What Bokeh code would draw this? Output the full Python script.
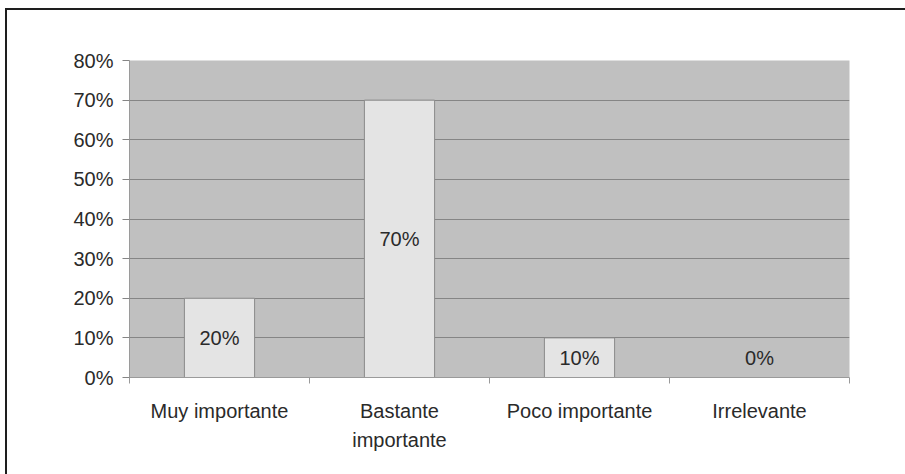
from bokeh.plotting import figure
from bokeh.models import (Range1d, FixedTicker, ColumnDataSource, PrintfTickFormatter,
                          InlineStyleSheet)
from bokeh.core.properties import value
from bokeh.embed import file_html
from bokeh.resources import INLINE

# Survey answers and their shares (percent)
categories = ["Muy importante", "Bastante\nimportante", "Poco importante", "Irrelevante"]
shares = [20, 70, 10, 0]
y_ticks = [0, 10, 20, 30, 40, 50, 60, 70, 80]

FONT = "Liberation Sans"
TEXT = "#2a2a2a"
SIZE = "20px"

xs = [i + 0.5 for i in range(len(categories))]
label_y = [max(v, 10) / 2 for v in shares]
labels = [f"{v}%" for v in shares]

src = ColumnDataSource(dict(x=xs, top=shares, ly=label_y, label=labels))

# The figure sits 7px / 10px into the page; two thin strips rule its top and left edges
frame_rule = InlineStyleSheet(css="""
:host { position: relative; }
:host::before {
  content: ""; position: absolute; left: -2px; top: -2px;
  width: 2px; height: calc(100% + 2px); background: #1e1e1e;
}
:host::after {
  content: ""; position: absolute; left: -2px; top: -2px;
  width: calc(100% + 2px); height: 2px; background: #1e1e1e;
}
""")
p = figure(width=898, height=464, output_backend="svg", toolbar_location=None,
           x_range=Range1d(0, len(categories)), y_range=Range1d(0, y_ticks[-1]),
           min_border_left=122, min_border_right=56,
           min_border_top=50, min_border_bottom=97,
           stylesheets=[frame_rule])
p.margin = (10, 0, 0, 7)
p.background_fill_color = "#c0c0c0"
p.border_fill_color = "white"
p.outline_line_color = None

p.xgrid.visible = False
p.ygrid.ticker = FixedTicker(ticks=y_ticks)
p.ygrid.grid_line_color = "#858585"
p.ygrid.grid_line_width = 1

p.vbar(x="x", top="top", width=0.39, source=src,
       fill_color="#e4e4e4", line_color="#8a8a8a", line_width=1)
p.text(x="x", y="ly", text="label", source=src,
       text_align="center", text_baseline="middle",
       text_font=value(FONT), text_font_size=SIZE, text_color=TEXT)

# x axis: labels at category centres, small ticks at category boundaries
xa = p.xaxis[0]
xa.ticker = FixedTicker(ticks=xs, minor_ticks=list(range(len(categories) + 1)))
xa.major_label_overrides = {x: c for x, c in zip(xs, categories)}
xa.major_tick_out = 0
xa.major_tick_in = 0
xa.minor_tick_out = 6
xa.minor_tick_in = 0
xa.minor_tick_line_color = "#9a9a9a"
xa.axis_line_color = "#9a9a9a"
xa.major_label_standoff = 16
xa.major_label_text_font = FONT
xa.major_label_text_font_size = SIZE
xa.major_label_text_color = TEXT
xa.major_label_text_line_height = 1.35

ya = p.yaxis[0]
ya.ticker = FixedTicker(ticks=y_ticks)
ya.formatter = PrintfTickFormatter(format="%d%%")
ya.major_tick_out = 7
ya.major_tick_in = 0
ya.minor_tick_out = 0
ya.minor_tick_in = 0
ya.major_tick_line_color = "#858585"
ya.axis_line_color = "#9a9a9a"
ya.major_label_standoff = 9
ya.major_label_text_font = FONT
ya.major_label_text_font_size = SIZE
ya.major_label_text_color = TEXT

open("out.html", "w").write(file_html(p, INLINE))
